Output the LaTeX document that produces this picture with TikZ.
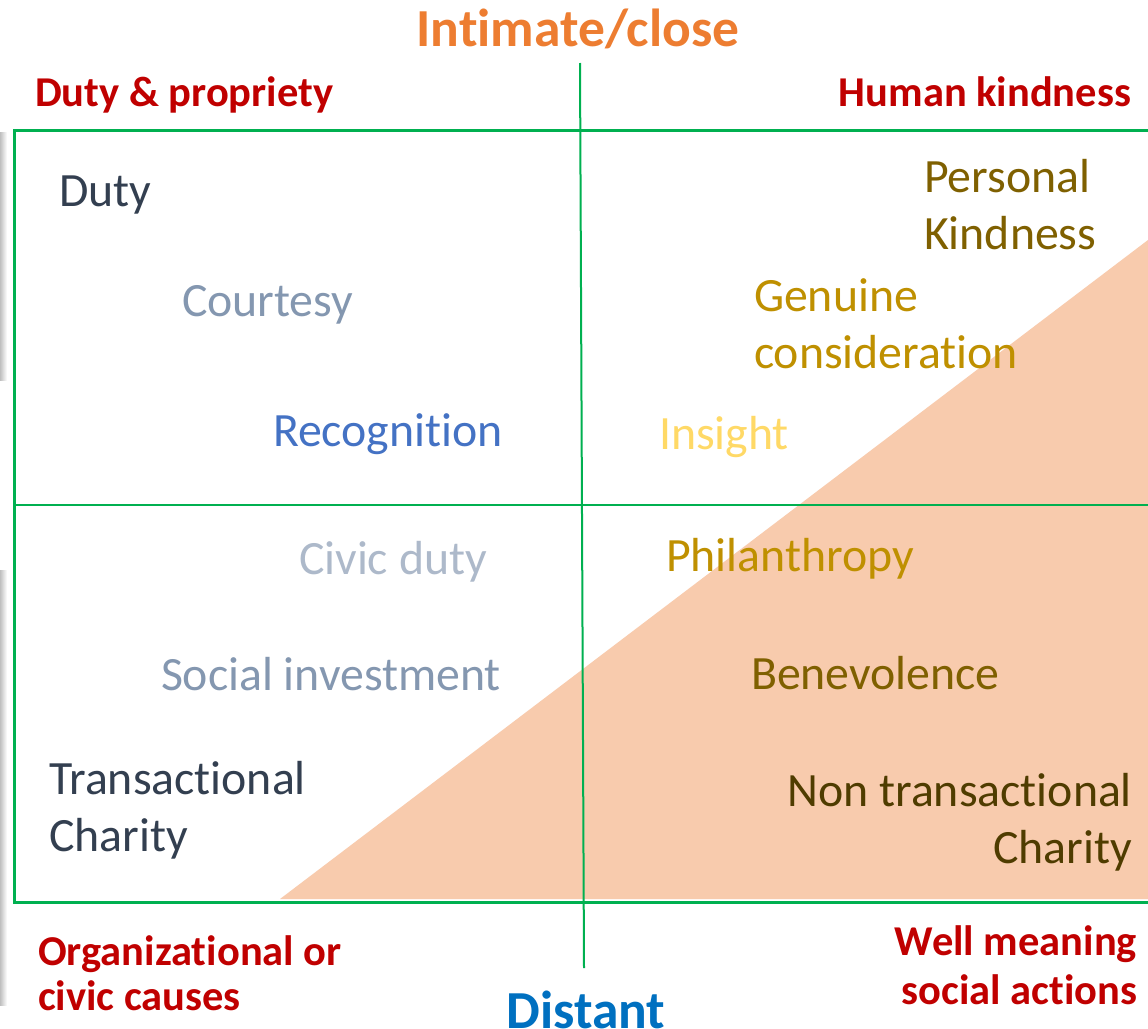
\documentclass[tikz,border=0pt]{standalone}
\usepackage{fontspec}
\setmainfont{Carlito}[Ligatures=NoCommon]
\definecolor{grn}{HTML}{00B050}
\definecolor{peach}{HTML}{F8CBAD}
\definecolor{hdred}{HTML}{C00000}
\definecolor{orng}{HTML}{ED7D31}
\definecolor{blu}{HTML}{0070C0}
\definecolor{slate}{HTML}{333F50}
\definecolor{slatemid}{HTML}{8497B0}
\definecolor{slatelt}{HTML}{ADB9CA}
\definecolor{accblue}{HTML}{4472C4}
\definecolor{golddk}{HTML}{7F6000}
\definecolor{goldmd}{HTML}{BF9000}
\definecolor{goldlt}{HTML}{FFD966}
\definecolor{browndk}{HTML}{4F3C00}
\begin{document}
\begin{tikzpicture}[x=1pt,y=-1pt,
  every node/.style={inner sep=0pt,outer sep=0pt},
  axislbl/.style={font=\fontsize{53.5}{60}\selectfont\bfseries},
  cornerlbl/.style={font=\fontsize{42.5}{48}\selectfont\bfseries,text=hdred},
  item/.style={font=\fontsize{47.8}{56}\selectfont},
  frame/.style={draw=grn,line width=3pt},
  divider/.style={draw=grn,line width=2pt}]
\useasboundingbox (0,0) rectangle (1148,1028);
\fill[white] (0,0) rectangle (1148,1028);
% left shadow bars
\shade[left color=black!25,right color=white] (0,132) rectangle (7,380);
\shade[left color=black!25,right color=white] (0,570) rectangle (7,1005);
% triangle
\fill[peach] (280,899) -- (1148,240) -- (1148,899) -- cycle;
% frame and dividers
\coordinate (tl) at (14,130);
\coordinate (br) at (1150,902);
\draw[frame] (1150,130) -- (tl) |- (br);
\coordinate (vtop) at (580,63);
\coordinate (vbot) at (584,968);
\coordinate (hl) at (14,505);
\coordinate (hr) at (1148,505);
\draw[divider] (vtop) -- (vbot);
\draw[divider] (hl) -- (hr);
% axis labels
\node[axislbl,text=orng,anchor=base] (close) at (578,46) {Intimate/close};
\node[axislbl,text=blu,anchor=base] (distant) at (586,1028) {Distant};
% corner labels
\node[cornerlbl,anchor=base west] (duty) at (35,106) {Duty \& propriety};
\node[cornerlbl,anchor=base east] (kind) at (1131,106) {Human kindness};
\node[cornerlbl,anchor=base west] (org1) at (38,965) {Organizational or};
\node[cornerlbl,anchor=base west] (org2) at (38,1010) {civic causes};
\node[cornerlbl,anchor=base east] (well1) at (1137,955) {Well meaning};
\node[cornerlbl,anchor=base east] (well2) at (1137,1004) {social actions};
% items
\node[item,text=slate,anchor=base west] (i1) at (59,206) {Duty};
\node[item,text=slatemid,anchor=base west] (i2) at (182,316) {Courtesy};
\node[item,text=accblue,anchor=base west] (i3) at (273,446) {Recognition};
\node[item,text=golddk,anchor=base west] (i4a) at (924,192) {Personal};
\node[item,text=golddk,anchor=base west] (i4b) at (924,249) {Kindness};
\node[item,text=goldmd,anchor=base west] (i5a) at (754,311) {Genuine};
\node[item,text=goldmd,anchor=base west] (i5b) at (754,368) {consideration};
\node[item,text=goldlt,anchor=base west] (i6) at (659,449) {Insight};
\node[item,text=slatelt,anchor=base west] (i7) at (299,574) {Civic duty};
\node[item,text=goldmd,anchor=base west] (i8) at (666,571) {Philanthropy};
\node[item,text=slatemid,anchor=base west] (i9) at (161,690) {Social investment};
\node[item,text=golddk,anchor=base west] (i10) at (751,689) {Benevolence};
\node[item,text=slate,anchor=base west] (i11a) at (49,794) {Transactional};
\node[item,text=slate,anchor=base west] (i11b) at (49,851) {Charity};
\node[item,text=browndk,anchor=base east] (i12a) at (1132,806) {Non transactional};
\node[item,text=browndk,anchor=base east] (i12b) at (1132,863) {Charity};
\end{tikzpicture}
\end{document}
